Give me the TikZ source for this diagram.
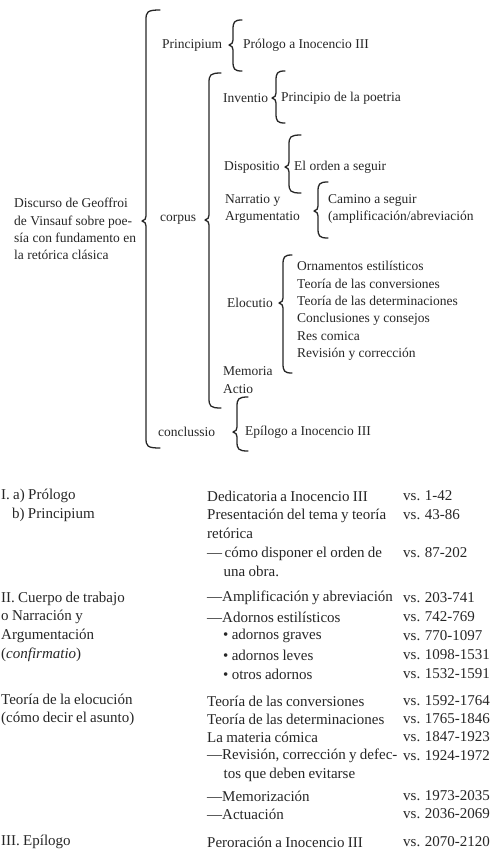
\documentclass[tikz,border=0pt]{standalone}
\usepackage{fontspec}
\setmainfont{Liberation Serif}
\definecolor{ink}{HTML}{262626}

\newcommand{\tabfont}{\fontsize{15}{18.7}\selectfont\spaceskip=0.22em plus 0.1em\relax}

\tikzset{
  lbl/.style={anchor=west, inner sep=0pt, align=left, text=ink,
    font=\fontsize{13.5}{17.3}\selectfont},
  tabtxt/.style={anchor=west, inner sep=0pt, align=left, text=ink,
    font=\tabfont},
  brc/.style={draw=ink, line width=1.3pt, line cap=round, line join=round}
}

% stem x, top, tip, bottom, hook reach
\newcommand{\curlbrace}[5]{%
  \draw[brc] ({#1+#5},#2) .. controls ({#1+1},#2) and (#1,{#2+2}) .. (#1,{#2+10})
    -- (#1,{#3-5}) .. controls (#1,{#3-2}) and ({#1-1},{#3-1}) .. ({#1-4},#3)
    .. controls ({#1-1},{#3+1}) and (#1,{#3+2}) .. (#1,{#3+5})
    -- (#1,{#4-10}) .. controls (#1,{#4-2}) and ({#1+1},#4) .. ({#1+#5},#4);}

\begin{document}
\begin{tikzpicture}[x=1pt, y=-1pt]
  \useasboundingbox (0,0) rectangle (502,852);

  % scheme
  \node[lbl] (discurso) at (14,229) {Discurso de Geoffroi\\de Vinsauf sobre poe-\\sía con fundamento en\\la retórica clásica};
  \curlbrace{146}{10}{221}{448}{14}

  \node[lbl] (principium) at (162,45) {Principium};
  \curlbrace{233}{20}{45}{71}{9}
  \node[lbl] (prologo) at (243,45) {Prólogo a Inocencio III};

  \node[lbl] (corpus) at (160,220) {corpus};
  \curlbrace{209}{73}{220}{408}{12}

  \node[lbl] (inventio) at (223,98) {Inventio};
  \curlbrace{276}{71}{98}{123}{9}
  \node[lbl] (poetria) at (281,98) {Principio de la poetria};

  \node[lbl] (dispositio) at (224,167) {Dispositio};
  \curlbrace{289}{135}{167}{193}{12}
  \node[lbl] (orden) at (294,167) {El orden a seguir};

  \node[lbl] (narratio) at (225,209) {Narratio y\\Argumentatio};
  \curlbrace{318}{182}{211}{238}{10}
  \node[lbl] (camino) at (328,209) {Camino a seguir\\(amplificación/abreviación};

  \node[lbl] (elocutio) at (227,303) {Elocutio};
  \curlbrace{283}{255}{303}{373}{9}
  \node[lbl] (ornamentos) at (297,311) {Ornamentos estilísticos\\Teoría de las conversiones\\Teoría de las determinaciones\\Conclusiones y consejos\\Res comica\\Revisión y corrección};

  \node[lbl] (memoria) at (223,380) {Memoria\\Actio};

  \node[lbl] (conclussio) at (158,432) {conclussio};
  \curlbrace{237}{397}{432}{451}{11}
  \node[lbl] (epilogo) at (245,432) {Epílogo a Inocencio III};

  % table of verses
  \node[tabtxt] (prologoI) at (1,496) {I. a) Prólogo};
  \node[tabtxt] (principiumI) at (12,515) {b) Principium};
  \node[tabtxt] (dedicatoria) at (207,496) {Dedicatoria a Inocencio III};
  \node[tabtxt] (vsA) at (403,496) {vs. 1-42};
  \node[tabtxt] (presentacion) at (207,524) {Presentación del tema y teoría\\retórica};
  \node[tabtxt] (vsB) at (403,515) {vs. 43-86};
  \node[tabtxt] (disponer) at (207,562) {—\,cómo disponer el orden de\\\hspace*{16.5pt}una obra.};
  \node[tabtxt] (vsC) at (403,553) {vs. 87-202};

  \node[tabtxt] (cuerpo) at (1,626.5) {II. Cuerpo de trabajo\\o Narración y\\Argumentación\\(\textit{confirmatio})};
  \node[tabtxt] (amplif) at (207,598) {—Amplificación y abreviación};
  \node[tabtxt] (vsD) at (403,598) {vs. 203-741};
  \node[tabtxt] (adornos) at (207,617) {—Adornos estilísticos};
  \node[tabtxt] (vsE) at (403,617) {vs. 742-769};
  \node[tabtxt] (graves) at (223,636) {\textbullet\ adornos graves};
  \node[tabtxt] (vsF) at (403,636) {vs. 770-1097};
  \node[tabtxt] (leves) at (223,655) {\textbullet\ adornos leves};
  \node[tabtxt] (vsG) at (403,655) {vs. 1098-1531};
  \node[tabtxt] (otros) at (223,674) {\textbullet\ otros adornos};
  \node[tabtxt] (vsH) at (403,674) {vs. 1532-1591};

  \node[tabtxt] (elocucion) at (1,710) {Teoría de la elocución\\(cómo decir el asunto)};
  \node[tabtxt] (conversiones) at (207,701) {Teoría de las conversiones};
  \node[tabtxt] (vsI) at (403,701) {vs. 1592-1764};
  \node[tabtxt] (determin) at (207,719) {Teoría de las determinaciones};
  \node[tabtxt] (vsJ) at (403,719) {vs. 1765-1846};
  \node[tabtxt] (comica) at (207,737) {La materia cómica};
  \node[tabtxt] (vsK) at (403,737) {vs. 1847-1923};
  \node[tabtxt] (revision) at (207,765) {—Revisión, corrección y defec-\\\hspace*{16.5pt}tos que deben evitarse};
  \node[tabtxt] (vsL) at (403,756) {vs. 1924-1972};
  \node[tabtxt] (memoriz) at (207,796) {—Memorización};
  \node[tabtxt] (vsM) at (403,796) {vs. 1973-2035};
  \node[tabtxt] (actuacion) at (207,814) {—Actuación};
  \node[tabtxt] (vsN) at (403,814) {vs. 2036-2069};

  \node[tabtxt] (epilogoIII) at (1,842) {III. Epílogo};
  \node[tabtxt] (peroracion) at (207,842) {Peroración a Inocencio III};
  \node[tabtxt] (vsO) at (403,842) {vs. 2070-2120};
\end{tikzpicture}
\end{document}
